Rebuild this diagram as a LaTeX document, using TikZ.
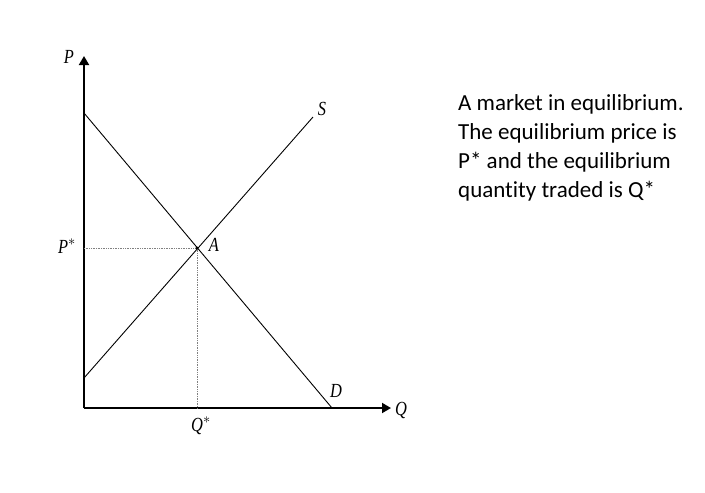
\documentclass[tikz,border=0pt]{standalone}
\usepackage{fontspec}
\setmainfont[Ligatures={NoCommon}]{Carlito}
\newfontfamily\lblfont[FakeStretch=0.82]{Liberation Serif}
\usetikzlibrary{arrows.meta}
\tikzset{
  axis/.style={line width=1.8pt,-{Triangle[width=10pt,length=9pt]}},
  curve/.style={line width=0.9pt},
  guide/.style={densely dotted,line width=0.7pt,gray},
  lbl/.style={font=\lblfont\itshape\fontsize{20}{20}\selectfont,inner sep=0pt,text=black},
  note/.style={font=\fontsize{23}{29}\selectfont,align=left,anchor=north west,inner sep=0pt}
}
\begin{document}
\begin{tikzpicture}[x=1pt,y=-1pt]
\useasboundingbox (0,0) rectangle (705,493);
\coordinate (O) at (84,408);
\coordinate (Ytop) at (84,56);
\coordinate (Xend) at (391,408);
\coordinate (D1) at (84,113);
\coordinate (D2) at (332,408);
\coordinate (S1) at (84,378);
\coordinate (S2) at (313,117);
\coordinate (E) at (197,248);
\coordinate (Pa) at (84,248);
\coordinate (Qa) at (197,408);
\draw[axis] (O) -- (Ytop);
\draw[axis] (O) -- (Xend);
\draw[curve] (D1) -- (D2);
\draw[curve] (S1) -- (S2);
\draw[guide] (Pa) -- (E);
\draw[guide] (E) -- (Qa);
\fill (E) circle (1.6pt);
\node[lbl] (lP) at (69,57) {P};
\node[lbl] (lQ) at (401,410) {Q};
\node[lbl] (lPs) at (67,246) {P$^{*}$};
\node[lbl] (lQs) at (201,426) {Q$^{*}$};
\node[lbl] (lA) at (214,245) {A};
\node[lbl] (lS) at (322,109) {S};
\node[lbl] (lD) at (336,391) {D};
\node[note] (txt) at (458,94) {A market in equilibrium.\\The equilibrium price is\\P* and the equilibrium\\quantity traded is Q*};
\end{tikzpicture}
\end{document}
